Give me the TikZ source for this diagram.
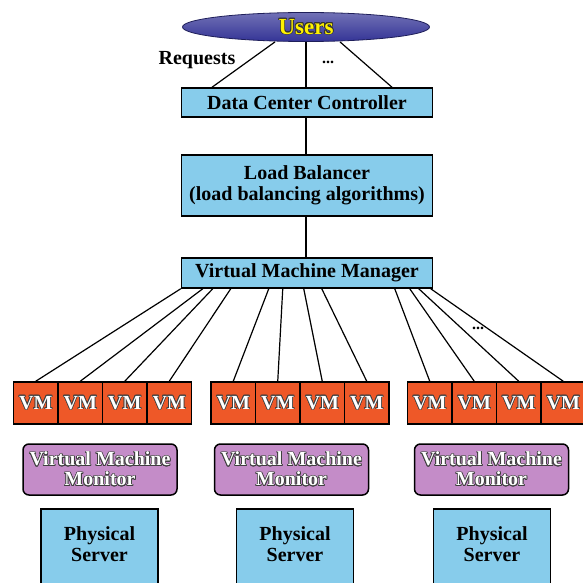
\documentclass[tikz,border=0pt]{standalone}
\usepackage{fontspec}
\setmainfont{Liberation Serif}
\usepackage[copies]{contour}
\contourlength{0.7pt}
\usetikzlibrary{shapes.geometric}
\definecolor{skyfill}{RGB}{135,204,235}
\definecolor{vmfill}{RGB}{238,88,40}
\definecolor{monfill}{RGB}{196,140,200}
\definecolor{userfill}{RGB}{52,52,150}
\newcommand{\embossed}[1]{{\color{white}\contour{black!75}{#1}}}

\begin{document}
\begin{tikzpicture}[x=1pt,y=-1pt,line width=1.2pt,
    every node/.style={font=\bfseries\fontsize{20}{21}\selectfont},
    ctrlbox/.style={draw,line width=1.5pt,fill=skyfill,minimum width=251pt,align=center,inner sep=0pt},
    vmbox/.style={draw,line width=1.5pt,fill=vmfill,minimum width=44.5pt,minimum height=42pt,inner sep=0pt},
    monbox/.style={draw,line width=1.5pt,fill=monfill,rounded corners=6pt,minimum width=154pt,minimum height=51pt,align=center,inner sep=0pt},
    servbox/.style={draw,line width=1.5pt,fill=skyfill}
    ]
    \fill[white] (0,0) rectangle (583,583);
    \useasboundingbox (0,0) rectangle (583,583);

    % users and requests
    \node[ellipse,draw=userfill!60!black,line width=0.8pt,top color=userfill!70!white,bottom color=userfill,
          minimum width=247pt,minimum height=29pt,inner sep=0pt] (users) at (306,27)
          {\fontsize{23}{23}\selectfont\color{yellow}\contour{black!80}{Users}};
    \node (req) at (197,60) {Requests};
    \node[font=\bfseries\fontsize{16}{16}\selectfont] (dots1) at (328,62) {...};

    % controller chain
    \node[ctrlbox,minimum height=29pt] (dcc) at (307,102.5) {Data Center Controller};
    \node[ctrlbox,minimum height=61pt] (lb) at (307,185.5) {Load Balancer\\(load balancing algorithms)};
    \node[ctrlbox,minimum height=30pt] (vmm) at (307,273) {Virtual Machine Manager};

    \draw ([xshift=-31pt]users.south) -- ([xshift=-95pt]dcc.north);
    \draw (users.south) -- (users.south |- dcc.north);
    \draw ([xshift=34pt]users.south) -- ([xshift=85pt]dcc.north);
    \draw (dcc.south -| users.south) -- (lb.north -| users.south);
    \draw (lb.south -| users.south) -- (vmm.north -| users.south);

    % hosts
    \foreach \g/\gx/\mx/\sx in {1/13.5/100/99.5, 2/211/291.5/295, 3/407.5/491.5/492}{
        \foreach \i in {1,...,4}
            \node[vmbox] (vm-\g-\i) at (\gx+44.5*\i-22.25,403) {\embossed{VM}};
        \node[monbox] (mon-\g) at (\mx,469.5) {\embossed{Virtual Machine}\\[-1pt]\embossed{Monitor}};
        \path[servbox] (\sx-58.5,509) rectangle (\sx+58.5,600);
        \node[align=center] (srv-\g) at (\sx,544) {Physical\\Server};
    }

    % VMM to VMs
    \foreach \g/\i/\dx in {1/1/0, 1/2/22, 1/3/32, 1/4/50,
                           2/1/88, 2/2/102, 2/3/123, 2/4/141,
                           3/1/214, 3/2/229, 3/3/238, 3/4/250}
        \draw ([xshift=\dx pt]vmm.south west) -- (vm-\g-\i.north);
    \node[font=\bfseries\fontsize{16}{16}\selectfont] (dots2) at (478,328) {...};
\end{tikzpicture}
\end{document}
